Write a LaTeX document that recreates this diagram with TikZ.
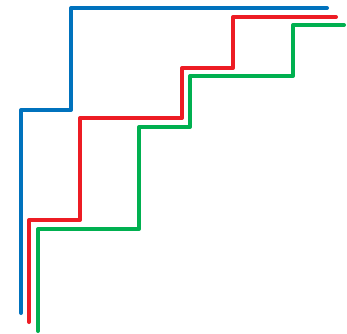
\documentclass[tikz,border=0pt]{standalone}
\usepackage{tikz}
\definecolor{stepblue}{RGB}{0,114,189}
\definecolor{stepred}{RGB}{237,28,36}
\definecolor{stepgreen}{RGB}{0,176,80}

\begin{document}
\begin{tikzpicture}[
    x=1pt,y=-1pt,
    stair/.style={line width=4pt,line cap=round,line join=round}
  ]
    \useasboundingbox (0,0) rectangle (347,333);
    \draw[stair,stepblue] (21,313) -- (21,110) -- (71,110) -- (71,8) -- (327,8);
    \draw[stair,stepred] (29,322) -- (29,220) -- (80,220) -- (80,118) -- (182,118)
        -- (182,68) -- (233,68) -- (233,17) -- (336,17);
    \draw[stair,stepgreen] (38,331) -- (38,229) -- (139,229) -- (139,127) -- (190,127)
        -- (190,76) -- (293,76) -- (293,25) -- (344,25);
  \end{tikzpicture}
\end{document}
